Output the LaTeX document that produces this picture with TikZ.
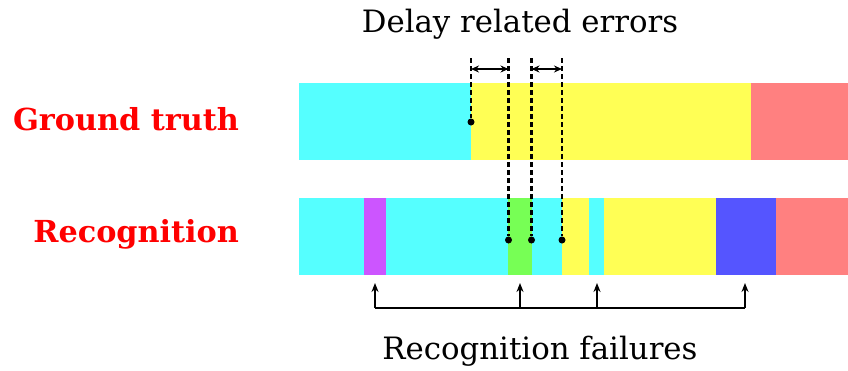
\documentclass[tikz,border=0pt]{standalone}
\usepackage{fontspec}
\setmainfont{DejaVu Serif}
\usetikzlibrary{arrows.meta}

\definecolor{segcyan}{HTML}{55FFFF}
\definecolor{segyellow}{HTML}{FFFF55}
\definecolor{segred}{HTML}{FF8080}
\definecolor{segpurple}{HTML}{CC55FF}
\definecolor{seggreen}{HTML}{77FF55}
\definecolor{segblue}{HTML}{5555FF}

\begin{document}
\begin{tikzpicture}[x=1pt,y=-1pt,
    rowlabel/.style={anchor=east,text=red,font=\fontsize{30.3}{36}\selectfont\bfseries},
    caption/.style={font=\fontsize{30.8}{36}\selectfont},
    dot/.style={circle,fill=black,minimum size=7pt,inner sep=0pt},
    delay/.style={line width=2.6pt,dash pattern=on 5pt off 3pt},
    span/.style={{Stealth[length=8pt,width=7pt]}-{Stealth[length=8pt,width=7pt]},line width=1.4pt},
    fail/.style={-{Stealth[length=9pt,width=7pt]},line width=1.5pt}]

\useasboundingbox (0,0) rectangle (848,370);

% Row labels
\node[rowlabel] (gt) at (242.5,119.5) {Ground truth};
\node[rowlabel] (rec) at (242.5,234.5) {Recognition};

% Ground truth segments
\fill[segcyan] (299,83) rectangle (471,160);
\fill[segyellow] (471,83) rectangle (751,160);
\fill[segred] (751,83) rectangle (848,160);

% Recognition segments
\fill[segcyan] (299,198) rectangle (364,275);
\fill[segpurple] (364,198) rectangle (386,275);
\fill[segcyan] (386,198) rectangle (508,275);
\fill[seggreen] (508,198) rectangle (532,275);
\fill[segcyan] (532,198) rectangle (562,275);
\fill[segyellow] (562,198) rectangle (589,275);
\fill[segcyan] (589,198) rectangle (604,275);
\fill[segyellow] (604,198) rectangle (716,275);
\fill[segblue] (716,198) rectangle (776,275);
\fill[segred] (776,198) rectangle (848,275);

% Boundary markers
\node[dot] (g1) at (471,122) {};
\node[dot] (r1) at (508.5,240) {};
\node[dot] (r2) at (531.5,240) {};
\node[dot] (r3) at (562,240) {};
\coordinate (t0) at (471,58);
\coordinate (t1) at (508.5,58);
\coordinate (t2) at (531.5,58);
\coordinate (t3) at (562,58);

\draw[delay] (t0) -- (g1);
\draw[delay] (t1) -- (r1);
\draw[delay] (t2) -- (r2);
\draw[delay] (t3) -- (r3);

% Delay spans
\draw[span] ([yshift=-11pt]t0) -- ([yshift=-11pt]t1);
\draw[span] ([yshift=-11pt]t2) -- ([yshift=-11pt]t3);

\node[caption] (delay) at (520,24.5) {Delay related errors};

% Failure pointers
\coordinate (f1) at (375,308);
\coordinate (f2) at (520,308);
\coordinate (f3) at (597,308);
\coordinate (f4) at (745,308);
\draw[line width=1.5pt] (f1) -- (f4);
\draw[fail] (f1) -- ++(0,-25);
\draw[fail] (f2) -- ++(0,-25);
\draw[fail] (f3) -- ++(0,-25);
\draw[fail] (f4) -- ++(0,-25);

\node[caption] (fail) at (540,351.5) {Recognition failures};

\end{tikzpicture}
\end{document}
